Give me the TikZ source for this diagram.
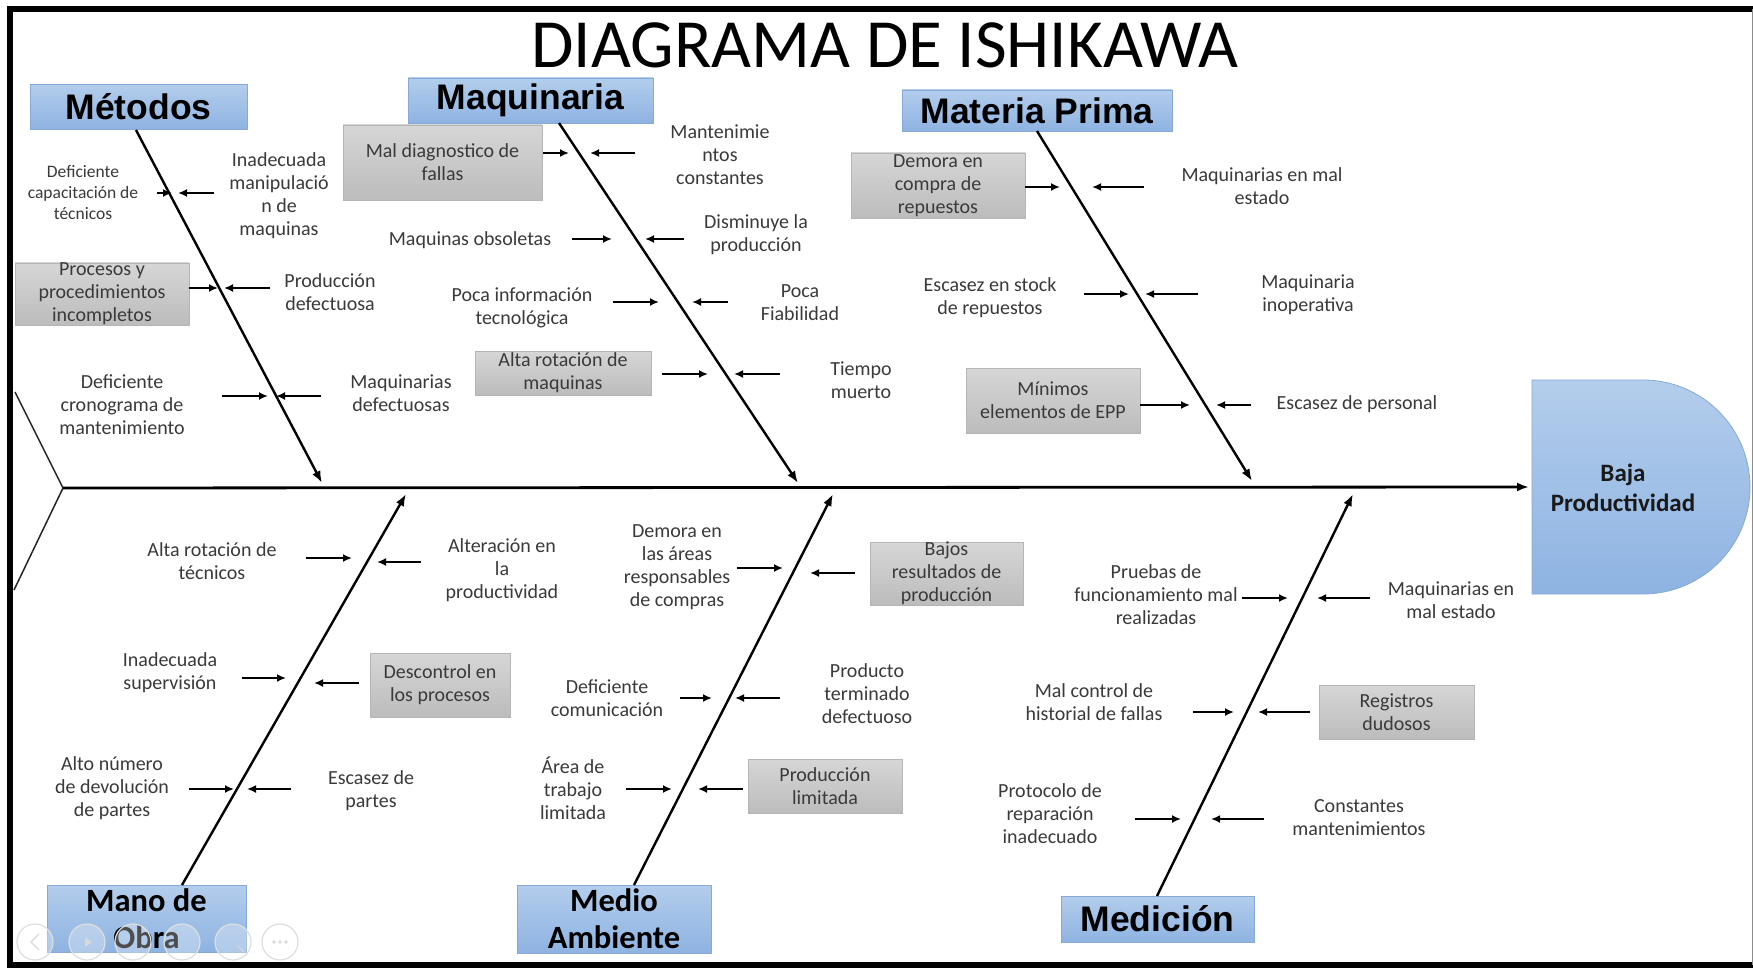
\documentclass[tikz,border=0pt]{standalone}
\usepackage{fontspec}
\setmainfont{Carlito}
\newfontfamily\arialf{Liberation Sans}
\usetikzlibrary{arrows.meta}
\definecolor{txt}{HTML}{3A3A3A}
\definecolor{bluetop}{HTML}{B3CDEC}
\definecolor{bluebot}{HTML}{8EB3E2}
\definecolor{blueedge}{HTML}{86A9D8}
\definecolor{graytop}{HTML}{D6D6D6}
\definecolor{graybot}{HTML}{BCBCBC}
\definecolor{grayedge}{HTML}{B5B5B5}
\newcommand\sarr[4]{\coordinate (#1a) at (#2,#4); \coordinate (#1b) at (#3,#4); \draw[subarrow] (#1a) -- (#1b);}
\begin{document}
\begin{tikzpicture}[x=1pt,y=-1pt,
  lbl/.style={font=\fontsize{20}{23}\selectfont, text=txt, align=center, inner sep=0pt},
  slbl/.style={font=\fontsize{17.5}{21}\selectfont, text=txt, align=center, inner sep=0pt},
  gbox/.style={lbl, draw=grayedge, line width=0.8pt, top color=graytop, bottom color=graybot},
  cata/.style={font=\arialf\bfseries\fontsize{35.5}{40}\selectfont, text=black, align=center, inner sep=0pt, draw=blueedge, line width=0.8pt, top color=bluetop, bottom color=bluebot},
  catc/.style={font=\bfseries\fontsize{32.5}{37}\selectfont, text=black, align=center, inner sep=0pt, draw=blueedge, line width=0.8pt, top color=bluetop, bottom color=bluebot},
  bone/.style={line width=2.4pt, -{Latex[length=12pt,width=9pt]}},
  subarrow/.style={line width=2pt, -{Latex[length=9pt,width=8pt]}},
  ctrl/.style={draw=black!13, line width=1.2pt, fill=white, fill opacity=0.3}
]
\useasboundingbox (0,0) rectangle (1753,968);
\fill[white] (0,0) rectangle (1753,968);

% frame
\draw[line width=6pt] (1753,9) -- (10,9) -- (10,965) -- (1753,965);
\draw[black!45, line width=1pt] (1752,9) -- (1752,965);

% title
\node[anchor=base, font=\fontsize{69}{80}\selectfont, inner sep=0pt] (title) at (885,68) {DIAGRAMA DE ISHIKAWA};

% head
\path[draw=blueedge, line width=0.8pt, top color=bluetop, bottom color=bluebot]
  (1532,380) -- (1643,380) arc[start angle=-90, end angle=90, radius=107] -- (1532,594) -- cycle;
\node[font=\bfseries\fontsize{25}{30}\selectfont, text=black!90, align=center, inner sep=0pt] (head) at (1623,488) {Baja\\Productividad};
\coordinate (headL) at (1529,487);

% spine and tail
\coordinate (tailV) at (63,488);
\coordinate (tailT) at (15,392);
\coordinate (tailB) at (14,590);
\draw[line width=1.5pt, black!85] (tailT) -- (tailV) -- (tailB);
\draw[line width=2.8pt, -{Latex[length=12pt,width=9pt]}] (tailV) -- (headL);

% category boxes
\node[cata, minimum width=217, minimum height=45] (met) at (138.5,107) {Métodos};
\node[cata, minimum width=245, minimum height=45] (maq) at (530.5,100.5) {Maquinaria};
\node[cata, minimum width=270, minimum height=41] (mat) at (1037,110.5) {Materia Prima};
\node[catc, minimum width=199, minimum height=67] (man) at (146.5,918.5) {Mano de\\Obra};
\node[catc, minimum width=194, minimum height=68] (med) at (614,919) {Medio\\Ambiente};
\node[cata, minimum width=193, minimum height=46] (mic) at (1157.5,919) {Medición};

% bones
\coordinate (metS) at (136,130); \coordinate (metE) at (322,483);
\coordinate (maqS) at (559,123); \coordinate (maqE) at (798,483);
\coordinate (matS) at (1037,131); \coordinate (matE) at (1252,481);
\coordinate (manS) at (182,885); \coordinate (manE) at (406,494);
\coordinate (medS) at (634,885); \coordinate (medE) at (833,494);
\coordinate (micS) at (1157,896); \coordinate (micE) at (1353,494);
\draw[bone] (metS) -- (metE);
\draw[bone] (maqS) -- (maqE);
\draw[bone] (matS) -- (matE);
\draw[bone] (manS) -- (manE);
\draw[bone] (medS) -- (medE);
\draw[bone] (micS) -- (micE);

% ---- Metodos
\node[slbl] (m1) at (83,193) {Deficiente\\capacitación de\\técnicos};
\node[lbl] (m2) at (279,196) {Inadecuada\\manipulació\\n de\\maquinas};
\node[gbox, minimum width=174, minimum height=58] (m3) at (102,294) {Procesos y\\procedimientos\\incompletos};
\node[lbl] (m4) at (330,292) {Producción\\defectuosa};
\node[lbl] (m5) at (122,405) {Deficiente\\cronograma de\\mantenimiento};
\node[lbl] (m6) at (401,393) {Maquinarias\\defectuosas};
\sarr{a1r}{157}{172}{193} \sarr{a1l}{214}{178}{193}
\sarr{a2r}{189}{218}{288} \sarr{a2l}{270}{224}{288}
\sarr{a3r}{222}{268}{396} \sarr{a3l}{321}{276}{396}

% ---- Maquinaria
\node[gbox, minimum width=199, minimum height=75] (q1) at (442.5,162.5) {Mal diagnostico de\\fallas};
\node[lbl] (q2) at (720,155) {Mantenimie\\ntos\\constantes};
\node[lbl] (q3) at (470,240) {Maquinas obsoletas};
\node[lbl] (q4) at (756,235) {Disminuye la\\producción};
\node[lbl] (q5) at (522,308) {Poca información\\tecnológica};
\node[lbl] (q6) at (800,303) {Poca\\Fiabilidad};
\node[gbox, minimum width=176, minimum height=44] (q7) at (563,373) {Alta rotación de\\maquinas};
\node[lbl] (q8) at (861,380) {Tiempo\\muerto};
\sarr{b1r}{543}{569}{153} \sarr{b1l}{635}{590}{153}
\sarr{b2r}{572}{612}{239} \sarr{b2l}{684}{645}{239}
\sarr{b3r}{613}{659}{302} \sarr{b3l}{728}{692}{302}
\sarr{b4r}{662}{708}{374} \sarr{b4l}{780}{734}{374}

% ---- Materia Prima
\node[gbox, minimum width=174, minimum height=65] (p1) at (938,185.5) {Demora en\\compra de\\repuestos};
\node[lbl] (p2) at (1262,186) {Maquinarias en mal\\estado};
\node[lbl] (p3) at (990,298) {Escasez en stock\\de repuestos};
\node[lbl] (p4) at (1308,295) {Maquinaria\\inoperativa};
\node[gbox, minimum width=174, minimum height=65] (p5) at (1053,400.5) {Mínimos\\elementos de EPP};
\node[lbl] (p6) at (1357,404) {Escasez de personal};
\sarr{c1r}{1025}{1060}{187} \sarr{c1l}{1144}{1092}{187}
\sarr{c2r}{1084}{1129}{294} \sarr{c2l}{1198}{1145}{294}
\sarr{c3r}{1140}{1190}{405} \sarr{c3l}{1251}{1216}{405}

% ---- Mano de Obra
\node[lbl] (o1) at (212,561) {Alta rotación de\\técnicos};
\node[lbl] (o2) at (502,570) {Alteración en\\la\\productividad};
\node[lbl] (o3) at (170,673) {Inadecuada\\supervisión};
\node[gbox, minimum width=140, minimum height=64] (o4) at (440,685) {Descontrol en\\los procesos};
\node[lbl] (o5) at (112,788) {Alto número\\de devolución\\de partes};
\node[lbl] (o6) at (371,791) {Escasez de\\partes};
\sarr{d1r}{306}{352}{558} \sarr{d1l}{421}{377}{562}
\sarr{d2r}{242}{286}{678} \sarr{d2l}{359}{314}{683}
\sarr{d3r}{189}{234}{789} \sarr{d3l}{291}{247}{789}

% ---- Medio Ambiente
\node[lbl] (e1) at (677,567) {Demora en\\las áreas\\responsables\\de compras};
\node[gbox, minimum width=153, minimum height=53] (e2) at (946.5,573.5) {Bajos\\resultados de\\producción};
\node[lbl] (e3) at (607,698) {Deficiente\\comunicación};
\node[lbl] (e4) at (867,694) {Producto\\terminado\\defectuoso};
\node[lbl] (e5) at (573,788) {Área de\\trabajo\\limitada};
\node[gbox, minimum width=154, minimum height=54] (e6) at (825,786) {Producción\\limitada};
\sarr{e1r}{737}{783}{568} \sarr{e1l}{855}{810}{573}
\sarr{e2r}{680}{712}{698} \sarr{e2l}{780}{735}{698}
\sarr{e3r}{626}{672}{789} \sarr{e3l}{743}{698}{789}

% ---- Medicion
\node[lbl] (f1) at (1156,595) {Pruebas de\\funcionamiento mal\\realizadas};
\node[lbl] (f2) at (1451,600) {Maquinarias en\\mal estado};
\node[lbl] (f3) at (1094,702) {Mal control de\\historial de fallas};
\node[gbox, minimum width=155, minimum height=54] (f4) at (1396.5,712) {Registros\\dudosos};
\node[lbl] (f5) at (1050,814) {Protocolo de\\reparación\\inadecuado};
\node[lbl] (f6) at (1359,818) {Constantes\\mantenimientos};
\sarr{f1r}{1242}{1288}{598} \sarr{f1l}{1370}{1317}{598}
\sarr{f2r}{1193}{1234}{712} \sarr{f2l}{1310}{1258}{712}
\sarr{f3r}{1135}{1181}{819} \sarr{f3l}{1264}{1211}{819}

% faint presentation controls
\foreach \cx in {35,87,133,182,233,280} { \draw[ctrl] (\cx,942) circle[radius=18]; }
\draw[black!15, line width=1.2pt] (39,934) -- (31,942) -- (39,950);
\fill[black!15] (85,937) -- (92,942) -- (85,947) -- cycle;
\draw[black!15, line width=1.2pt] (238,946) -- (244,952);
\foreach \dx in {-6,0,6} { \fill[black!15] (280+\dx,942) circle[radius=1.8]; }
\end{tikzpicture}
\end{document}
